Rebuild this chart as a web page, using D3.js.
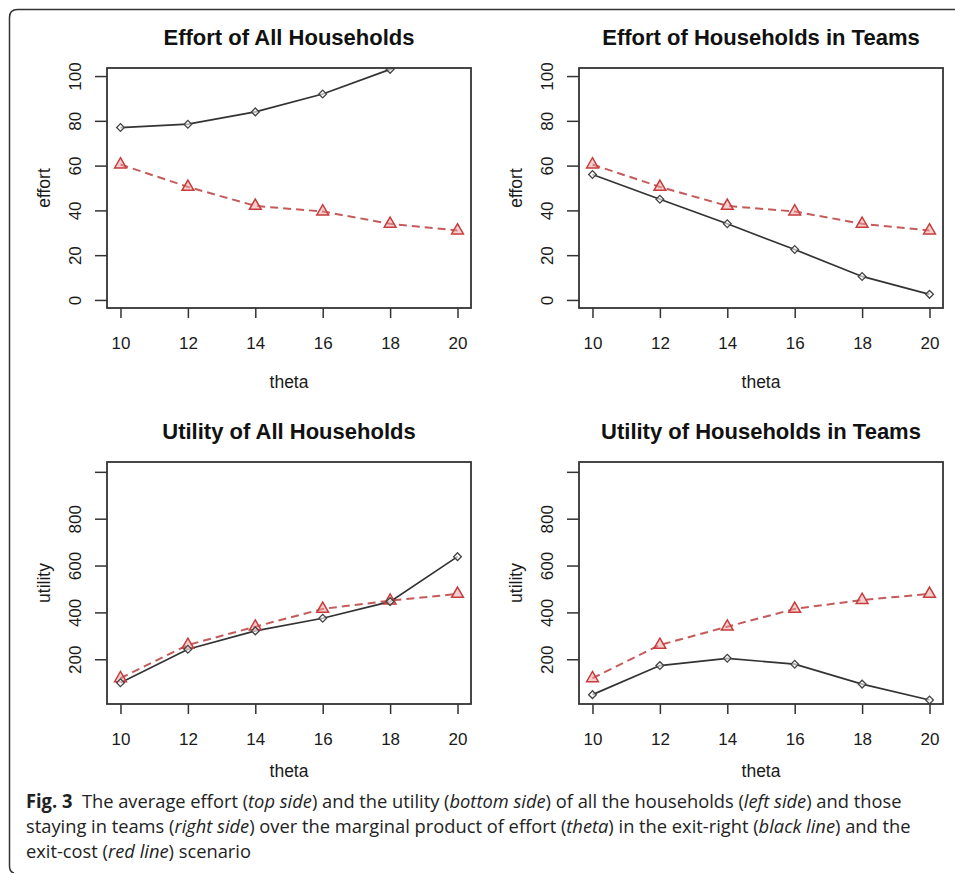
<!DOCTYPE html>
<html lang="en">
<head>
    <meta charset="UTF-8">
    <title>Fig. 3 effort and utility</title>
    <script src="https://d3js.org/d3.v7.min.js"></script>
    <style>
        body { margin: 0; background: #fff; }
        svg { display: block; }
    </style>
</head>
<body>
    <svg width="955" height="873"></svg>

    <script>
        // theta values on the x axis
        const theta = [10, 12, 14, 16, 18, 20];
        const thetaTicks = [10, 12, 14, 16, 18, 20];

        // effort, all households (black = exit-right, red = exit-cost)
        const effortAllExitRight = [77, 78.5, 84, 92, 103, 116];
        const effortAllExitCost = [60.5, 50.5, 42, 39.5, 34, 31];
        // effort, households in teams
        const effortTeamsExitRight = [56, 45, 34, 22.5, 10.5, 2.5];
        const effortTeamsExitCost = [60.5, 50.5, 42, 39.5, 34, 31];
        // utility, all households
        const utilityAllExitRight = [100, 243, 321, 375, 446, 638];
        const utilityAllExitCost = [119, 261, 339, 415, 450, 479];
        // utility, households in teams
        const utilityTeamsExitRight = [49, 173, 204, 179, 94, 26];
        const utilityTeamsExitCost = [119, 261, 339, 415, 453, 479];

        const effortTicks = [0, 20, 40, 60, 80, 100];
        const utilityTicks = [200, 400, 600, 800, 1000];
        const utilityTickLabels = ["200", "400", "600", "800", ""];

        const svg = d3.select("svg");

        // figure frame (top and left edges, rounded corner)
        svg.append("path")
            .attr("d", "M955.5,9.5 H17.5 Q9.5,9.5 9.5,17.5 V866 Q9.5,872 14,873")
            .attr("fill", "none")
            .attr("stroke", "#333")
            .attr("stroke-width", 1.5);

        const panels = [
            { title: "Effort of All Households", ylab: "effort", left: 107, top: 68, bottom: 308,
              yDomain: [-3.6, 103.6], ticks: effortTicks, labels: effortTicks.map(String),
              black: effortAllExitRight, red: effortAllExitCost },
            { title: "Effort of Households in Teams", ylab: "effort", left: 579, top: 68, bottom: 308,
              yDomain: [-3.6, 103.6], ticks: effortTicks, labels: effortTicks.map(String),
              black: effortTeamsExitRight, red: effortTeamsExitCost },
            { title: "Utility of All Households", ylab: "utility", left: 107, top: 462, bottom: 704,
              yDomain: [9, 1042], ticks: utilityTicks, labels: utilityTickLabels,
              black: utilityAllExitRight, red: utilityAllExitCost },
            { title: "Utility of Households in Teams", ylab: "utility", left: 579, top: 462, bottom: 704,
              yDomain: [9, 1042], ticks: utilityTicks, labels: utilityTickLabels,
              black: utilityTeamsExitRight, red: utilityTeamsExitCost }
        ];

        const boxWidth = 364;
        const axisFont = "'Liberation Sans', Arial, sans-serif";
        const ink = "#333";
        const redLine = "#c45a5a";

        panels.forEach((p, i) => {
            const right = p.left + boxWidth;
            const x = d3.scaleLinear().domain([9.6, 20.4]).range([p.left, right]);
            const y = d3.scaleLinear().domain(p.yDomain).range([p.bottom, p.top]);
            const g = svg.append("g");

            const clipId = "clip" + i;
            g.append("clipPath").attr("id", clipId)
                .append("rect")
                .attr("x", p.left).attr("y", p.top)
                .attr("width", boxWidth).attr("height", p.bottom - p.top);

            // title
            g.append("text")
                .attr("x", (p.left + right) / 2)
                .attr("y", p.top - 23)
                .attr("text-anchor", "middle")
                .attr("font-family", axisFont)
                .attr("font-weight", "bold")
                .attr("font-size", "22px")
                .attr("fill", "#111")
                .text(p.title);

            // x axis
            const xa = g.append("g")
                .attr("transform", `translate(0,${p.bottom})`)
                .call(d3.axisBottom(x).tickValues(thetaTicks).tickSize(10).tickPadding(19).tickSizeOuter(0));
            xa.select(".domain").remove();
            xa.selectAll("line").attr("stroke", ink).attr("stroke-width", 1.5);
            xa.selectAll("text")
                .attr("font-family", axisFont)
                .attr("font-size", "17px")
                .attr("fill", "#1a1a1a");

            // y axis, labels rotated like base R
            const ya = g.append("g")
                .attr("transform", `translate(${p.left},0)`)
                .call(d3.axisLeft(y).tickValues(p.ticks).tickSize(12).tickSizeOuter(0).tickFormat(""));
            ya.select(".domain").remove();
            ya.selectAll("line").attr("stroke", ink).attr("stroke-width", 1.5);
            ya.selectAll(".tick").append("text")
                .attr("transform", "translate(-32.5,0) rotate(-90)")
                .attr("dy", "0.36em")
                .attr("text-anchor", "middle")
                .attr("font-family", axisFont)
                .attr("font-size", "17px")
                .attr("fill", "#1a1a1a")
                .text((d, j) => p.labels[j]);

            // axis titles
            g.append("text")
                .attr("x", (p.left + right) / 2)
                .attr("y", p.bottom + (p.top < 100 ? 80 : 73))
                .attr("text-anchor", "middle")
                .attr("font-family", axisFont)
                .attr("font-size", "17.5px")
                .attr("fill", "#1a1a1a")
                .text("theta");

            g.append("text")
                .attr("transform", `translate(${p.left - 63},${(p.top + p.bottom) / 2}) rotate(-90)`)
                .attr("dy", "0.36em")
                .attr("text-anchor", "middle")
                .attr("font-family", axisFont)
                .attr("font-size", "17.5px")
                .attr("fill", "#1a1a1a")
                .text(p.ylab);

            // series
            const line = d3.line().x((d, j) => x(theta[j])).y(d => y(d));
            const plot = g.append("g").attr("clip-path", `url(#${clipId})`);

            plot.append("path")
                .datum(p.red)
                .attr("d", line)
                .attr("fill", "none")
                .attr("stroke", redLine)
                .attr("stroke-width", 2)
                .attr("stroke-dasharray", "8,5");

            plot.append("path")
                .datum(p.black)
                .attr("d", line)
                .attr("fill", "none")
                .attr("stroke", ink)
                .attr("stroke-width", 1.7);

            plot.selectAll(".tri")
                .data(p.red)
                .join("path")
                .attr("transform", (d, j) => `translate(${x(theta[j])},${y(d)})`)
                .attr("d", d3.symbol(d3.symbolTriangle, 60))
                .attr("fill", "rgba(236,160,160,0.5)")
                .attr("stroke", "#c83c3c")
                .attr("stroke-width", 1.5);

            plot.selectAll(".dia")
                .data(p.black)
                .join("path")
                .attr("transform", (d, j) => `translate(${x(theta[j])},${y(d)}) rotate(45)`)
                .attr("d", d3.symbol(d3.symbolSquare, 30))
                .attr("fill", "rgba(255,255,255,0.6)")
                .attr("stroke", "#444")
                .attr("stroke-width", 1.3);

            // box
            g.append("rect")
                .attr("x", p.left).attr("y", p.top)
                .attr("width", boxWidth).attr("height", p.bottom - p.top)
                .attr("fill", "none")
                .attr("stroke", ink)
                .attr("stroke-width", 1.8);
        });

        // caption
        const captionLines = [
            [["Fig. 3", "bold"], ["\u00a0 The average effort (", ""], ["top side", "italic"],
             [") and the utility (", ""], ["bottom side", "italic"], [") of all the households (", ""],
             ["left side", "italic"], [") and those", ""]],
            [["staying in teams (", ""], ["right side", "italic"],
             [") over the marginal product of effort (", ""], ["theta", "italic"],
             [") in the exit-right (", ""], ["black line", "italic"], [") and the", ""]],
            [["exit-cost (", ""], ["red line", "italic"], [") scenario", ""]]
        ];
        const captionBase = [808, 833, 858];

        let captionScale = null;
        captionLines.forEach((parts, i) => {
            const t = svg.append("text")
                .attr("x", 0).attr("y", 0)
                .attr("font-family", "'Open Sans', 'Noto Sans', sans-serif")
                .attr("font-size", "19px")
                .attr("fill", "#222");
            parts.forEach(([s, style]) => {
                const ts = t.append("tspan").text(s);
                if (style === "bold") ts.attr("font-weight", "bold");
                if (style === "italic") ts.attr("font-style", "italic");
            });
            if (captionScale === null) {
                captionScale = 876 / t.node().getComputedTextLength();
            }
            t.attr("transform", `translate(26,${captionBase[i]}) scale(${captionScale},1)`);
        });
    </script>
</body>
</html>
